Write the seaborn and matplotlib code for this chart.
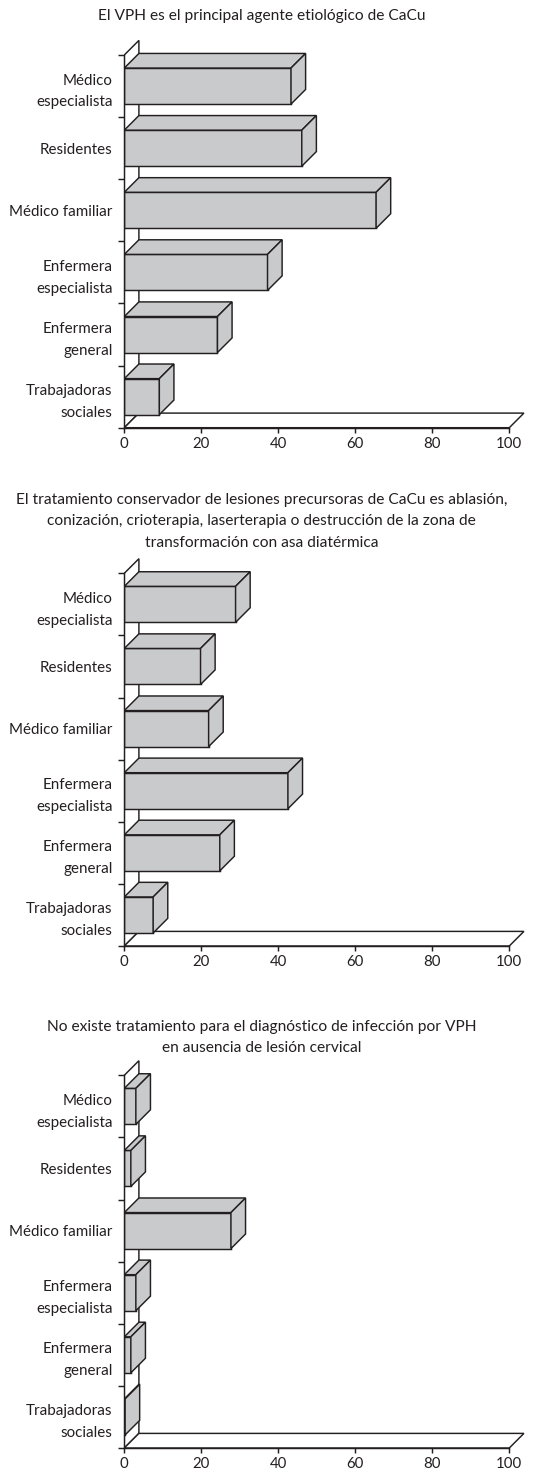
import matplotlib
matplotlib.use("Agg")
import matplotlib.pyplot as plt
from matplotlib.patches import Polygon
import pandas as pd
import seaborn as sns

# --- data -------------------------------------------------------------
categories = [
    "Médico\nespecialista",
    "Residentes",
    "Médico familiar",
    "Enfermera\nespecialista",
    "Enfermera\ngeneral",
    "Trabajadoras\nsociales",
]
titles = [
    "El VPH es el principal agente etiológico de CaCu",
    "El tratamiento conservador de lesiones precursoras de CaCu es ablasión,\n"
    "conización, crioterapia, laserterapia o destrucción de la zona de\n"
    "transformación con asa diatérmica",
    "No existe tratamiento para el diagnóstico de infección por VPH\n"
    "en ausencia de lesión cervical",
]
vph_agente = [43.3, 46.1, 65.4, 37.2, 24.2, 9.1]
tratamiento_conservador = [28.9, 19.8, 21.9, 42.5, 24.8, 7.5]
sin_tratamiento = [3.0, 1.7, 27.7, 3.0, 1.7, 0.2]
x_ticks = [0, 20, 40, 60, 80, 100]

series = [vph_agente, tratamiento_conservador, sin_tratamiento]

# --- style --------------------------------------------------------------
sns.set_theme(style="white")
plt.rcParams["font.family"] = ["Lato", "DejaVu Sans"]
INK = "#231f20"
BAR = "#c9cacc"
LW = 1.05

W, H = 544, 1477
fig = plt.figure(figsize=(W / 100, H / 100), dpi=100)
fig.patch.set_facecolor("white")

# pixel geometry of each panel
PX0, PX100 = 124.3, 509.3          # x = 0 and x = 100
PX_RIGHT = 530.0                   # right edge of the axes box
DEPTH = 14.6                       # 3D offset in pixels (right and up)
panel_y = [(55.0, 427.7), (573.3, 946.0), (1075.3, 1448.0)]
title_y = [16.0, 521.3, 1037.5]
TOP_MARGIN = 22.0

px_per_x = (PX100 - PX0) / 100.0
n = len(categories)

for vals, title, (ytop, ybot), ty in zip(series, titles, panel_y, title_y):
    px_per_y = (ybot - ytop) / n
    ax_top = ytop - TOP_MARGIN
    ax = fig.add_axes([PX0 / W, 1 - ybot / H, (PX_RIGHT - PX0) / W, (ybot - ax_top) / H])

    ddx = DEPTH / px_per_x
    ddy = DEPTH / px_per_y
    lo, hi = -0.5, n - 0.5

    # back wall and floor of the 3D frame
    wall = Polygon([(0, lo), (0, hi), (ddx, hi - ddy), (ddx, lo - ddy)],
                   closed=True, facecolor="white", edgecolor=INK, lw=LW, zorder=1)
    floor = Polygon([(0, hi), (100, hi), (100 + ddx, hi - ddy), (ddx, hi - ddy)],
                    closed=True, facecolor="white", edgecolor=INK, lw=LW, zorder=1)
    ax.add_patch(wall)
    ax.add_patch(floor)

    df = pd.DataFrame({"grupo": categories, "porcentaje": vals})
    sns.barplot(data=df, x="porcentaje", y="grupo", order=categories, orient="h",
                color=BAR, saturation=1, width=0.58, edgecolor=INK, linewidth=LW,
                ax=ax, zorder=3)

    # top and side faces of each bar
    for p in list(ax.patches):
        if p in (wall, floor):
            continue
        x, y0 = p.get_x(), p.get_y()
        w, h = p.get_width(), p.get_height()
        y1 = y0 + h
        top = Polygon([(x, y0), (x + w, y0), (x + w + ddx, y0 - ddy), (x + ddx, y0 - ddy)],
                      closed=True, facecolor=BAR, edgecolor=INK, lw=LW,
                      joinstyle="miter", zorder=3)
        side = Polygon([(x + w, y0), (x + w, y1), (x + w + ddx, y1 - ddy), (x + w + ddx, y0 - ddy)],
                       closed=True, facecolor=BAR, edgecolor=INK, lw=LW,
                       joinstyle="miter", zorder=3)
        ax.add_patch(top)
        ax.add_patch(side)

    ax.set_xlim(0, (PX_RIGHT - PX0) / px_per_x)
    ax.set_ylim(hi, lo - TOP_MARGIN / px_per_y)
    ax.set_xlabel("")
    ax.set_ylabel("")
    ax.set_facecolor("none")

    for s in ("top", "right"):
        ax.spines[s].set_visible(False)
    ax.spines["left"].set_bounds(lo, hi)
    ax.spines["bottom"].set_bounds(0, 100)
    for s in ("left", "bottom"):
        ax.spines[s].set_color(INK)
        ax.spines[s].set_linewidth(LW)
        ax.spines[s].set_zorder(4)

    ax.set_xticks(x_ticks)
    ax.set_xticklabels([str(t) for t in x_ticks])
    ax.tick_params(axis="x", which="major", direction="out", length=3.8, width=LW,
                   color=INK, labelcolor=INK, labelsize=10.8, pad=3, bottom=True)
    ax.set_yticks(range(n))
    ax.set_yticklabels(categories, linespacing=1.72)
    ax.set_yticks([i - 0.5 for i in range(n + 1)], minor=True)
    ax.tick_params(axis="y", which="major", length=0, pad=8.4,
                   labelcolor=INK, labelsize=10.9, left=True)
    ax.tick_params(axis="y", which="minor", direction="out", length=4.3, width=LW,
                   color=INK, left=True)
    for lab in ax.get_yticklabels():
        lab.set_multialignment("right")

    fig.text(261.5 / W, 1 - ty / H, title, ha="center", va="center",
             multialignment="center", fontsize=11.2, color=INK, linespacing=1.68)

fig.savefig("out.png", dpi=100, facecolor="white")
